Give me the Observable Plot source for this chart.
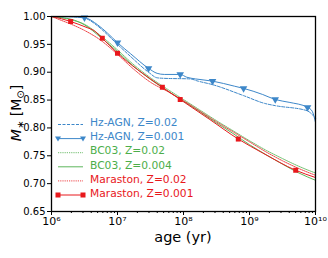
<!DOCTYPE html>
<html><head><meta charset="utf-8">
<script src="https://cdn.jsdelivr.net/npm/d3@7"></script>
<script src="https://cdn.jsdelivr.net/npm/@observablehq/plot@0.6"></script>
<style>
body{margin:0;background:#fff;}
#c{position:relative;width:328px;height:258px;}
svg{font-family:"DejaVu Sans",sans-serif;}
</style>
</head><body><div id="c"></div>
<script>
// ---- data (log10 age in yr -> stellar mass fraction) ----
const hzAgn001Age = [6.0, 6.3, 6.5, 6.7, 6.85, 7.0, 7.2, 7.47, 7.6, 7.71, 7.95, 8.05, 8.18, 8.44, 8.77, 8.91, 9.2, 9.39, 9.6, 9.88, 9.95, 10.0];
const hzAgn001M   = [1.000, 0.9995, 0.998, 0.985, 0.970, 0.953, 0.933, 0.907, 0.898, 0.896, 0.896, 0.891, 0.888, 0.884, 0.875, 0.871, 0.860, 0.851, 0.846, 0.837, 0.830, 0.810];
const hzAgn001MarkAge = [6.5, 7.0, 7.47, 7.95, 8.44, 8.91, 9.39, 9.88];
const hzAgn001MarkM   = [0.998, 0.953, 0.907, 0.896, 0.884, 0.871, 0.851, 0.837];

const hzAgn002Age = [6.0, 6.3, 6.5, 6.7, 6.85, 7.0, 7.2, 7.47, 7.6, 7.71, 8.1, 8.22, 8.43, 8.91, 9.23, 9.39, 9.87, 9.96, 10.0];
const hzAgn002M   = [1.000, 0.9995, 0.997, 0.983, 0.967, 0.950, 0.928, 0.900, 0.890, 0.889, 0.888, 0.884, 0.878, 0.858, 0.844, 0.840, 0.831, 0.823, 0.818];

const gridAge = [6.0, 6.15, 6.3, 6.5, 6.75, 7.0, 7.25, 7.5, 7.75, 8.0, 8.25, 8.5, 8.75, 9.0, 9.25, 9.5, 9.75, 10.0];
const bc03Z002M  = [1.000, 0.998, 0.994, 0.986, 0.965, 0.940, 0.913, 0.890, 0.870, 0.851, 0.832, 0.813, 0.795, 0.777, 0.760, 0.745, 0.731, 0.719];
const bc03Z0004M = [1.000, 0.998, 0.995, 0.985, 0.962, 0.937, 0.910, 0.887, 0.867, 0.848, 0.829, 0.809, 0.790, 0.770, 0.752, 0.735, 0.719, 0.706];
const marZ002M   = [1.000, 0.993, 0.986, 0.975, 0.957, 0.932, 0.905, 0.882, 0.866, 0.849, 0.830, 0.811, 0.793, 0.775, 0.757, 0.741, 0.727, 0.715];

const mar001Age = [6.0, 6.15, 6.29, 6.54, 6.64, 6.77, 7.0, 7.3, 7.68, 7.95, 8.4, 8.83, 9.2, 9.7, 10.0];
const mar001M   = [1.000, 0.996, 0.991, 0.980, 0.975, 0.961, 0.934, 0.905, 0.873, 0.851, 0.815, 0.780, 0.755, 0.724, 0.711];
const mar001MarkAge = [6.29, 6.77, 7.0, 7.68, 7.95, 8.83, 9.70];
const mar001MarkM   = [0.991, 0.961, 0.934, 0.873, 0.851, 0.780, 0.724];

const yTicks = [0.65, 0.70, 0.75, 0.80, 0.85, 0.90, 0.95, 1.00];
const xMajorExp = [6, 7, 8, 9, 10];
const xMajorLabels = ["10⁶", "10⁷", "10⁸", "10⁹", "10¹⁰"];
const legendLabels = ["Hz-AGN, Z=0.02", "Hz-AGN, Z=0.001", "BC03, Z=0.02", "BC03, Z=0.004", "Maraston, Z=0.02", "Maraston, Z=0.001"];

const BLUE = "#3d87c9", GREEN = "#4cae4a", RED = "#e8181c";

const pts = (a, m) => a.map((e, i) => ({x: 10 ** e, y: m[i]}));
const xMajor = xMajorExp.map(e => 10 ** e);
const xMinor = [];
for (let e = 6; e < 10; e++) for (let k = 2; k <= 9; k++) xMinor.push(k * 10 ** e);

const curve = "monotone-x";
const chart = Plot.plot({
  width: 328, height: 258,
  marginLeft: 51, marginRight: 13, marginTop: 16, marginBottom: 47,
  style: {fontFamily: "DejaVu Sans", fontSize: "10px", color: "black", background: "white"},
  x: {type: "log", domain: [1e6, 1e10], axis: null},
  y: {domain: [0.65, 1.0], axis: null},
  marks: [
    Plot.axisY({ticks: yTicks, tickSize: 4, tickPadding: 2, tickFormat: d => d.toFixed(2), label: null, strokeWidth: 1}),
    Plot.axisX({ticks: xMinor, tickSize: 2, tickFormat: () => "", label: null}),
    Plot.axisX({ticks: xMajor, tickSize: 4, tickPadding: 2, tickFormat: (d, i) => xMajorLabels[xMajorExp.indexOf(Math.round(Math.log10(d)))], label: null, fontSize: 11}),
    Plot.line(pts(gridAge, bc03Z002M), {x: "x", y: "y", stroke: GREEN, strokeWidth: 1, strokeDasharray: "1.2,1", strokeOpacity: 0.8, curve}),
    Plot.line(pts(gridAge, bc03Z0004M), {x: "x", y: "y", stroke: GREEN, strokeWidth: 1, strokeOpacity: 0.9, curve}),
    Plot.line(pts(gridAge, marZ002M), {x: "x", y: "y", stroke: RED, strokeWidth: 1, strokeDasharray: "1.2,1", strokeOpacity: 0.8, curve}),
    Plot.line(pts(mar001Age, mar001M), {x: "x", y: "y", stroke: RED, strokeWidth: 1, curve}),
    Plot.dot(pts(mar001MarkAge, mar001MarkM), {x: "x", y: "y", symbol: "square", r: 2.8, fill: RED, stroke: "none"}),
    Plot.line(pts(hzAgn002Age, hzAgn002M), {x: "x", y: "y", stroke: BLUE, strokeWidth: 1, strokeDasharray: "3,1.5", curve}),
    Plot.line(pts(hzAgn001Age, hzAgn001M), {x: "x", y: "y", stroke: BLUE, strokeWidth: 1, curve}),
    Plot.dot(pts(hzAgn001MarkAge, hzAgn001MarkM), {x: "x", y: "y", symbol: "triangle", rotate: 180, r: 2.8, fill: BLUE, stroke: "none"}),
    Plot.frame({stroke: "black", strokeWidth: 1.3})
  ]
});
document.getElementById("c").appendChild(chart);

// ---- labels and legend (layout) ----
const svg = d3.select(chart);
svg.append("text").attr("x", 183).attr("y", 242).attr("text-anchor", "middle")
  .attr("font-size", 14.5).attr("fill", "black").text("age (yr)");
const yl = svg.append("text").attr("transform", "translate(21,113) rotate(-90)")
  .attr("text-anchor", "middle").attr("font-size", 14).attr("fill", "black");
yl.append("tspan").attr("font-style", "italic").text("M");
yl.append("tspan").attr("font-size", 10).attr("dy", 3).text("∗");
yl.append("tspan").attr("dy", -3).text(" [M");
yl.append("tspan").attr("font-size", 10).attr("dy", 3).text("⊙");
yl.append("tspan").attr("dy", -3).text("]");

const legendStyles = [
  {c: BLUE, dash: "3,1.5", op: 1, mark: null},
  {c: BLUE, dash: null, op: 1, mark: "tri"},
  {c: GREEN, dash: "1.2,1", op: 0.8, mark: null},
  {c: GREEN, dash: null, op: 0.9, mark: null},
  {c: RED, dash: "1.2,1", op: 0.8, mark: null},
  {c: RED, dash: null, op: 1, mark: "sq"}
];
const lg = svg.append("g").attr("text-anchor", "start");
legendLabels.forEach((t, i) => {
  const ty = 122.5 + i * 14.1, y = ty + 2;
  const s = legendStyles[i];
  const l = lg.append("line").attr("x1", 58).attr("x2", 83).attr("y1", y).attr("y2", y)
    .attr("stroke", s.c).attr("stroke-width", 1).attr("stroke-opacity", s.op);
  if (s.dash) l.attr("stroke-dasharray", s.dash);
  [58, 83].forEach(x => {
    if (s.mark === "tri") lg.append("path").attr("d", `M${x-3},${y-2}L${x+3},${y-2}L${x},${y+3}Z`).attr("fill", s.c);
    if (s.mark === "sq") lg.append("rect").attr("x", x - 2.5).attr("y", y - 2.5).attr("width", 5).attr("height", 5).attr("fill", s.c);
  });
  lg.append("text").attr("x", 90).attr("y", ty).attr("dy", "0.35em").attr("font-size", 10.7)
    .attr("text-anchor", "start").attr("fill", s.c).text(t);
});
</script></body></html>
